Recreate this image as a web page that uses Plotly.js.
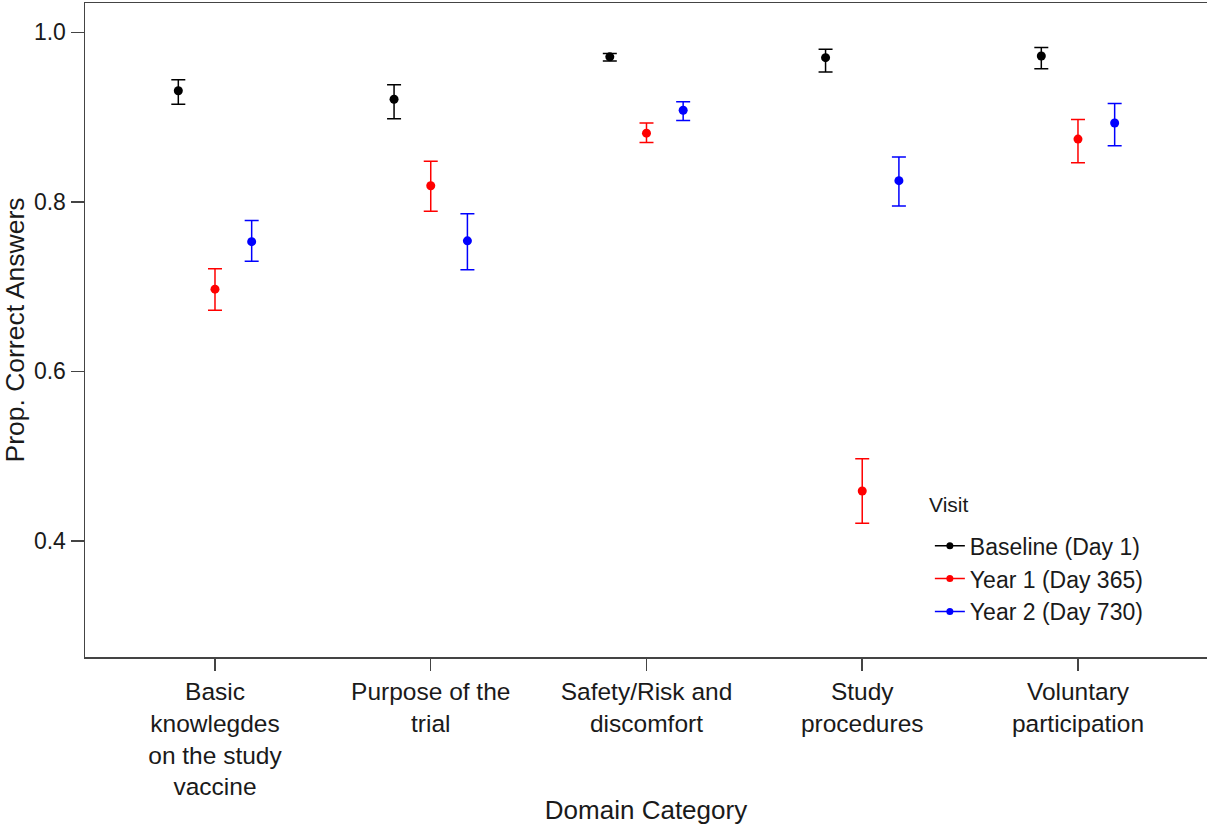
<!DOCTYPE html>
<html>
<head>
<meta charset="utf-8">
<script src="https://cdn.plot.ly/plotly-3.0.1.min.js"></script>
<style>html,body{margin:0;padding:0;background:#fff;}#chart{width:1207px;height:825px;}</style>
</head>
<body>
<div id="chart"></div>
<script>
// Categories (x axis)
const categories = [
  "Basic<br>knowlegdes<br>on the study<br>vaccine",
  "Purpose of the<br>trial",
  "Safety/Risk and<br>discomfort",
  "Study<br>procedures",
  "Voluntary<br>participation"
];
const visits = ["Baseline (Day 1)", "Year 1 (Day 365)", "Year 2 (Day 730)"];
const legendTitle = "Visit";
const colors = ["#000000", "#FF0000", "#0000FF"];

// Proportion of correct answers (point estimate, lower CI, upper CI)
const baselineVal   = [0.931, 0.921, 0.971, 0.970, 0.972];
const baselineLow   = [0.915, 0.898, 0.966, 0.953, 0.957];
const baselineHigh  = [0.944, 0.938, 0.975, 0.980, 0.982];

const year1Val      = [0.697, 0.819, 0.881, 0.459, 0.874];
const year1Low      = [0.672, 0.789, 0.870, 0.421, 0.846];
const year1High     = [0.721, 0.848, 0.893, 0.497, 0.897];

const year2Val      = [0.753, 0.754, 0.908, 0.825, 0.893];
const year2Low      = [0.730, 0.720, 0.896, 0.795, 0.866];
const year2High     = [0.778, 0.786, 0.918, 0.853, 0.916];

const yTicks = [0.4, 0.6, 0.8, 1.0];
const yTickText = ["0.4", "0.6", "0.8", "1.0"];

const series = [
  {val: baselineVal, low: baselineLow, high: baselineHigh},
  {val: year1Val, low: year1Low, high: year1High},
  {val: year2Val, low: year2Low, high: year2High}
];
const dodge = [-0.17, 0, 0.17];
const catIdx = categories.map((c, i) => i + 1);

const traces = [];
series.forEach((s, k) => {
  traces.push({
    type: "scatter",
    mode: "markers",
    x: catIdx.map(i => i + dodge[k]),
    y: s.val,
    marker: {color: colors[k], size: 9},
    error_y: {
      type: "data",
      symmetric: false,
      array: s.val.map((v, i) => s.high[i] - v),
      arrayminus: s.val.map((v, i) => v - s.low[i]),
      color: colors[k],
      thickness: 1.5,
      width: 7
    },
    showlegend: false,
    hoverinfo: "x+y"
  });
});
// legend entries (line + dot symbol)
visits.forEach((name, k) => {
  traces.push({
    type: "scatter",
    mode: "lines+markers",
    x: [null], y: [null],
    name: name,
    line: {color: colors[k], width: 1.5},
    marker: {color: colors[k], size: 7},
    showlegend: true
  });
});

const axisCommon = {
  showgrid: false,
  zeroline: false,
  showline: true,
  linecolor: "#444",
  linewidth: 1.5,
  mirror: true,
  ticks: "outside",
  tickcolor: "#444",
  tickwidth: 1.5,
  ticklen: 13
};

const layout = {
  width: 1207,
  height: 825,
  margin: {l: 85, r: 0, t: 3, b: 168},
  paper_bgcolor: "#fff",
  plot_bgcolor: "#fff",
  font: {family: "Liberation Sans, Arial, sans-serif", color: "#1a1a1a"},
  xaxis: Object.assign({}, axisCommon, {
    range: [0.3975, 5.598],
    tickmode: "array",
    tickvals: catIdx,
    ticktext: categories,
    tickfont: {size: 24.5},
    ticklen: 12,
    title: {text: "Domain Category", font: {size: 26}, standoff: 14}
  }),
  yaxis: Object.assign({}, axisCommon, {
    range: [0.2632, 1.0345],
    tickmode: "array",
    tickvals: yTicks,
    ticktext: yTickText,
    tickfont: {size: 23},
    title: {text: "Prop. Correct Answers", font: {size: 26.5}, standoff: 10}
  }),
  legend: {
    x: 0.753, y: 0.203, xanchor: "left", yanchor: "top",
    bgcolor: "rgba(0,0,0,0)",
    font: {size: 23},
    tracegroupgap: 0
  },
  annotations: [{
    text: legendTitle,
    xref: "paper", yref: "paper",
    x: 0.7502, y: 0.2336,
    xanchor: "left", yanchor: "middle",
    showarrow: false,
    font: {size: 21, color: "#1a1a1a"}
  }],
  showlegend: true
};

Plotly.newPlot("chart", traces, layout, {displayModeBar: false, staticPlot: true});
</script>
</body>
</html>
